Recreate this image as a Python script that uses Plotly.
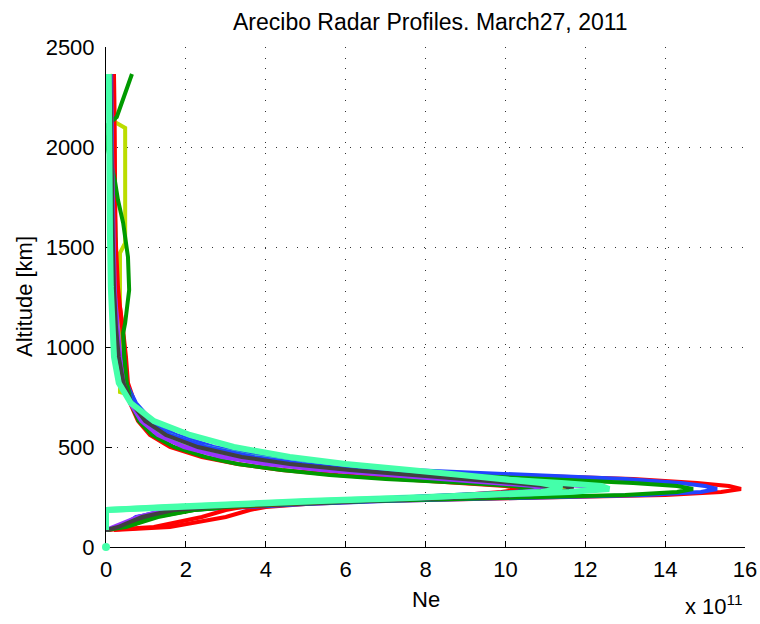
import plotly.graph_objects as go

# Altitude grid (km) shared by the regular profiles
ALT_KM = [85, 100, 150, 185, 200, 215, 230, 245, 260, 275, 290, 305, 320, 340, 360,
          385, 415, 450, 500, 560, 630, 720, 820, 950, 1100, 1300, 1550, 1800, 2100, 2365]

# Electron density profiles, units of 1e11 m^-3
NE_RED_1 = [0.2, 1.6, 3.0, 3.6, 4.0, 5.0, 6.8, 11.0, 14.0, 15.4, 15.9, 15.6, 14.8, 13.2, 10.0,
            6.9, 5.0, 3.6, 2.4, 1.55, 1.05, 0.72, 0.55, 0.5, 0.42, 0.28, 0.23, 0.22, 0.21, 0.2]
NE_BLUE_1 = [0.0, 0.4, 0.75, 2.0, 3.6, 5.0, 7.0, 10.5, 13.5, 14.9, 15.3, 15.0, 14.4, 13.0, 10.6,
             7.6, 5.5, 4.0, 2.7, 1.75, 1.15, 0.75, 0.5, 0.36, 0.28, 0.22, 0.19, 0.17, 0.16, 0.15]
NE_GREEN_1 = [0.0, 0.5, 1.2, 2.2, 3.2, 4.6, 6.6, 10.0, 13.0, 14.3, 14.7, 14.3, 13.2, 11.0, 8.6,
              6.3, 4.5, 3.2, 2.1, 1.4, 0.95, 0.68, 0.5, 0.4, 0.34, 0.28, 0.24, 0.2, 0.17, 0.15]
NE_PURPLE_1 = [0.0, 0.3, 0.9, 1.6, 2.6, 4.2, 6.2, 8.3, 10.3, 11.6, 12.3, 11.9, 10.6, 8.9, 7.3,
               5.6, 4.1, 3.0, 2.0, 1.3, 0.9, 0.62, 0.46, 0.36, 0.29, 0.24, 0.2, 0.17, 0.14, 0.12]
NE_GRAY_1 = [0.0, 0.4, 1.1, 2.0, 3.0, 4.5, 6.5, 8.5, 10.3, 11.3, 11.7, 11.5, 10.8, 9.4, 8.0,
             6.4, 4.8, 3.6, 2.4, 1.55, 1.0, 0.65, 0.45, 0.33, 0.26, 0.21, 0.18, 0.15, 0.13, 0.12]
NE_AQUA_1 = [0.0, 0.0, 0.0, 0.0, 1.5, 3.0, 5.0, 7.3, 9.6, 11.6, 12.6, 12.4, 11.4, 9.6, 8.0,
             6.3, 4.8, 3.6, 2.4, 1.55, 1.0, 0.64, 0.42, 0.3, 0.23, 0.18, 0.15, 0.13, 0.11, 0.1]
NE_RED_2 = [0.0, 1.2, 2.4, 3.0, 3.4, 4.4, 5.8, 7.4, 8.9, 9.9, 10.4, 10.0, 8.8, 7.2, 5.8,
            4.4, 3.3, 2.4, 1.6, 1.1, 0.8, 0.6, 0.5, 0.48, 0.4, 0.3, 0.24, 0.22, 0.21, 0.2]
NE_BLUE_2 = [0.0, 0.3, 0.8, 1.5, 2.4, 3.8, 5.4, 7.2, 8.9, 10.2, 10.9, 10.8, 10.2, 9.0, 7.8,
             6.3, 4.9, 3.7, 2.5, 1.6, 1.05, 0.7, 0.45, 0.32, 0.25, 0.2, 0.17, 0.15, 0.14, 0.13]
NE_PURPLE_2 = [0.0, 0.2, 0.8, 1.5, 2.4, 3.8, 5.6, 7.5, 9.2, 10.4, 11.0, 10.7, 9.7, 8.3, 6.9,
               5.4, 4.0, 2.9, 1.95, 1.3, 0.88, 0.6, 0.44, 0.34, 0.27, 0.22, 0.19, 0.16, 0.14, 0.12]
NE_GRAY_2 = [0.0, 0.3, 0.9, 1.7, 2.7, 4.1, 5.9, 7.8, 9.5, 10.7, 11.2, 11.0, 10.2, 8.9, 7.6,
             6.1, 4.6, 3.4, 2.3, 1.5, 0.98, 0.64, 0.44, 0.32, 0.25, 0.2, 0.17, 0.15, 0.13, 0.11]
NE_AQUA_2 = [0.0, 0.0, 0.0, 0.0, 1.8, 3.4, 5.4, 7.6, 9.5, 10.9, 11.4, 11.3, 10.9, 10.0, 8.9,
             7.6, 6.0, 4.6, 3.2, 2.1, 1.2, 0.62, 0.32, 0.2, 0.15, 0.12, 0.1, 0.09, 0.08, 0.07]

# Profile with a stepped topside
ALT_YGREEN_1 = [85, 100, 150, 185, 200, 215, 230, 245, 260, 275, 290, 305, 320, 340, 360,
                385, 415, 450, 500, 560, 630, 720, 765, 775, 1470, 1520, 2095, 2125, 2365]
NE_YGREEN_1 = [0.0, 0.3, 1.0, 1.8, 2.8, 4.2, 6.0, 8.0, 9.8, 11.0, 11.6, 11.3, 10.3, 8.7, 7.2,
               5.6, 4.2, 3.1, 2.1, 1.4, 0.95, 0.62, 0.52, 0.35, 0.35, 0.48, 0.48, 0.22, 0.1]

# Profile with a high-altitude bump
ALT_GREEN_2 = [85, 100, 150, 185, 200, 215, 230, 245, 260, 275, 290, 305, 320, 340, 360,
               385, 415, 450, 500, 560, 630, 720, 820, 950, 1070, 1120, 1285, 1450, 1620,
               1735, 1835, 1900, 2000, 2060, 2100, 2150, 2365]
NE_GREEN_2 = [0.0, 0.5, 1.3, 2.2, 3.0, 4.2, 5.8, 7.6, 9.2, 10.3, 10.8, 10.2, 9.0, 7.0, 5.6,
              4.4, 3.3, 2.5, 1.7, 1.15, 0.82, 0.62, 0.52, 0.46, 0.43, 0.48, 0.58, 0.55, 0.43,
              0.3, 0.22, 0.15, 0.06, -0.03, -0.03, 0.27, 0.65]

# Ground sample
NE_GROUND = [0.0]
ALT_GROUND = [0]

X_TICKS = [0, 2, 4, 6, 8, 10, 12, 14, 16]
Y_TICKS = [0, 500, 1000, 1500, 2000, 2500]

RED = "#ff0000"
BLUE = "#2244ff"
GREEN = "#009a00"
YGREEN = "#bbdd00"
PURPLE = "#9933ff"
GRAY = "#404040"
AQUA = "#44ffaa"

profiles = [
    (NE_RED_1, ALT_KM, RED, 4),
    (NE_BLUE_1, ALT_KM, BLUE, 4),
    (NE_GREEN_1, ALT_KM, GREEN, 4),
    (NE_YGREEN_1, ALT_YGREEN_1, YGREEN, 4),
    (NE_PURPLE_1, ALT_KM, PURPLE, 4),
    (NE_GRAY_1, ALT_KM, GRAY, 4),
    (NE_AQUA_1, ALT_KM, AQUA, 6),
    (NE_RED_2, ALT_KM, RED, 4),
    (NE_BLUE_2, ALT_KM, BLUE, 4),
    (NE_GREEN_2, ALT_GREEN_2, GREEN, 4),
    (NE_PURPLE_2, ALT_KM, PURPLE, 4),
    (NE_GRAY_2, ALT_KM, GRAY, 4),
    (NE_AQUA_2, ALT_KM, AQUA, 6),
]

fig = go.Figure()
for ne, alt, color, width in profiles:
    fig.add_trace(go.Scatter(
        x=ne, y=alt, mode="lines",
        line=dict(color=color, width=width),
        showlegend=False, hoverinfo="skip",
    ))
fig.add_trace(go.Scatter(
    x=NE_GROUND, y=ALT_GROUND, mode="markers",
    marker=dict(color=AQUA, size=8), cliponaxis=False,
    showlegend=False, hoverinfo="skip",
))

FONT = "Liberation Sans, Arial, sans-serif"
axis_common = dict(
    showline=True, linecolor="black", linewidth=1,
    ticks="inside", ticklen=6, tickcolor="black",
    showgrid=True, gridcolor="#333333", gridwidth=1, griddash="1px,9.6px",
    zeroline=False, mirror=False, layer="below traces", automargin=False,
    tickfont=dict(family=FONT, size=22, color="black"),
)

fig.update_layout(
    width=760, height=624, autosize=False,
    margin=dict(l=106, r=15, t=47, b=77, autoexpand=False),
    paper_bgcolor="white", plot_bgcolor="white",
    xaxis=dict(range=[0, 16], tickvals=X_TICKS, ticktext=[str(v) for v in X_TICKS],
               ticklabelstandoff=3, **axis_common),
    yaxis=dict(range=[0, 2500], tickvals=Y_TICKS, ticktext=[str(v) for v in Y_TICKS],
               ticklabelstandoff=6, **axis_common),
    annotations=[
        dict(text="Arecibo Radar Profiles. March27, 2011", xref="paper", yref="paper",
             x=0.5086, y=1.0, yshift=10, xanchor="center", yanchor="bottom", showarrow=False,
             font=dict(family=FONT, size=23, color="black")),
        dict(text="Altitude [km]", xref="paper", yref="paper", x=0, xshift=-82, y=0.5,
             xanchor="center", yanchor="middle", textangle=-90, showarrow=False,
             font=dict(family=FONT, size=22, color="black")),
        dict(text="Ne", xref="paper", yref="paper", x=0.5, y=0, yshift=-52,
             xanchor="center", yanchor="middle", showarrow=False,
             font=dict(family=FONT, size=22, color="black")),
        dict(text="x 10<sup>11</sup>", xref="paper", yref="paper", x=1, y=0, yshift=-58,
             xanchor="right", yanchor="middle", showarrow=False,
             font=dict(family=FONT, size=22, color="black")),
    ],
)

fig.write_html("out.html")
